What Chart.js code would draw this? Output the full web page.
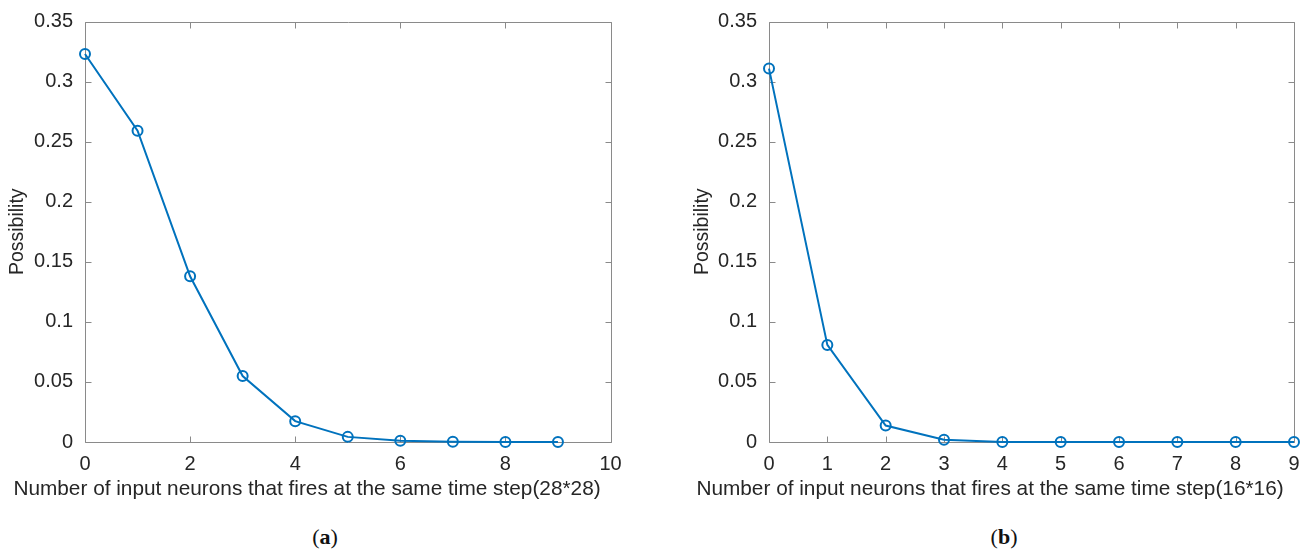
<!DOCTYPE html>
<html lang="en">
<head>
  <meta charset="UTF-8" />
  <title>Input neuron firing possibility</title>
  <script src="https://cdn.jsdelivr.net/npm/chart.js"></script>
  <style>
    body { margin: 0; background: #fff; width: 1307px; height: 554px; position: relative; overflow: hidden; }
    .panel { position: absolute; top: 0; }
    .cap { position: absolute; top: 524px; width: 60px; text-align: center; font-family: 'Liberation Serif', serif; font-size: 22px; color: #111; }
  </style>
</head>
<body>
  <div class="panel" style="left:0px"><canvas id="chartA" width="640" height="502"></canvas></div>
  <div class="panel" style="left:670px"><canvas id="chartB" width="636" height="502"></canvas></div>
  <div class="cap" style="left:295px">(<b>a</b>)</div>
  <div class="cap" style="left:974px">(<b>b</b>)</div>

  <script>
    // panel (a): 28*28 input
    const neuronsA = [0, 1, 2, 3, 4, 5, 6, 7, 8, 9];
    const possibilityA = [0.323, 0.2591, 0.138, 0.0549, 0.0174, 0.0043, 0.001, 0.0002, 0, 0];
    // panel (b): 16*16 input
    const neuronsB = [0, 1, 2, 3, 4, 5, 6, 7, 8, 9];
    const possibilityB = [0.3108, 0.0808, 0.0137, 0.0019, 0, 0, 0, 0, 0, 0];

    const yTicks = [0, 0.05, 0.1, 0.15, 0.2, 0.25, 0.3, 0.35];

    const LINE = '#0072BD';
    const FRAME = '#8a8a8a';
    const TEXT = '#262626';
    const FONT = "'Liberation Sans', Arial, sans-serif";

    // matlab style box with inward ticks on every side
    const boxTicks = {
      id: 'boxTicks',
      beforeDatasetsDraw(chart) {
        const { ctx, chartArea: a, scales: { x, y } } = chart;
        const L = Math.round(a.left) + 0.5, R = Math.round(a.right) + 0.5;
        const T = Math.round(a.top) + 0.5, B = Math.round(a.bottom) + 0.5;
        ctx.save();
        ctx.strokeStyle = FRAME;
        ctx.lineWidth = 1;
        ctx.beginPath();
        ctx.rect(L, T, R - L, B - T);
        x.ticks.forEach(t => {
          const px = Math.round(x.getPixelForValue(t.value)) + 0.5;
          ctx.moveTo(px, B); ctx.lineTo(px, B - 6);
          ctx.moveTo(px, T); ctx.lineTo(px, T + 6);
        });
        y.ticks.forEach(t => {
          const py = Math.round(y.getPixelForValue(t.value)) + 0.5;
          ctx.moveTo(L, py); ctx.lineTo(L + 6, py);
          ctx.moveTo(R, py); ctx.lineTo(R - 6, py);
        });
        ctx.stroke();
        ctx.restore();
      }
    };

    function makeChart(id, xs, ys, xMax, xStep, xTitle, pad, yWidth, yTitlePad) {
      return new Chart(document.getElementById(id), {
        type: 'line',
        data: {
          datasets: [{
            data: xs.map((v, i) => ({ x: v, y: ys[i] })),
            borderColor: LINE,
            borderWidth: 2,
            pointStyle: 'circle',
            pointRadius: 5,
            pointBorderWidth: 2,
            pointBorderColor: LINE,
            pointBackgroundColor: 'rgba(0,0,0,0)',
            tension: 0,
            clip: false
          }]
        },
        options: {
          responsive: false,
          animation: false,
          layout: { autoPadding: false, padding: { top: 21.5, left: pad.left, right: pad.right, bottom: 0 } },
          plugins: {
            legend: { display: false },
            tooltip: { enabled: false },
            title: {
              display: true, position: 'bottom', text: xTitle, color: TEXT,
              font: { family: FONT, size: 20.8, weight: 'normal' },
              padding: { top: 0, bottom: 0 }
            }
          },
          scales: {
            x: {
              type: 'linear', min: 0, max: xMax,
              grid: { display: false, drawTicks: false }, border: { display: false },
              ticks: { stepSize: xStep, color: TEXT, padding: 10, font: { family: FONT, size: 20 }, maxRotation: 0 },
              afterFit: s => { s.height = 35; s.paddingLeft = 0; s.paddingRight = 0; }
            },
            y: {
              type: 'linear', min: 0, max: 0.35,
              grid: { display: false, drawTicks: false }, border: { display: false },
              afterBuildTicks: s => { s.ticks = yTicks.map(v => ({ value: v })); },
              ticks: { color: TEXT, padding: 12, font: { family: FONT, size: 20 }, callback: v => String(+v.toFixed(2)) },
              title: { display: true, text: 'Possibility', color: TEXT, font: { family: FONT, size: 19.5 }, padding: { top: yTitlePad, bottom: 0 } },
              afterFit: s => { s.width = yWidth; s.paddingTop = 0; s.paddingBottom = 0; }
            }
          }
        },
        plugins: [boxTicks]
      });
    }

    makeChart('chartA', neuronsA, possibilityA, 10, 2,
      'Number of input neurons that fires at the same time step(28*28)',
      { left: 3.5, right: 29.5 }, 81.5, 2.3);
    makeChart('chartB', neuronsB, possibilityB, 9, 1,
      'Number of input neurons that fires at the same time step(16*16)',
      { left: 16, right: 12 }, 83, 5.3);
  </script>
</body>
</html>
